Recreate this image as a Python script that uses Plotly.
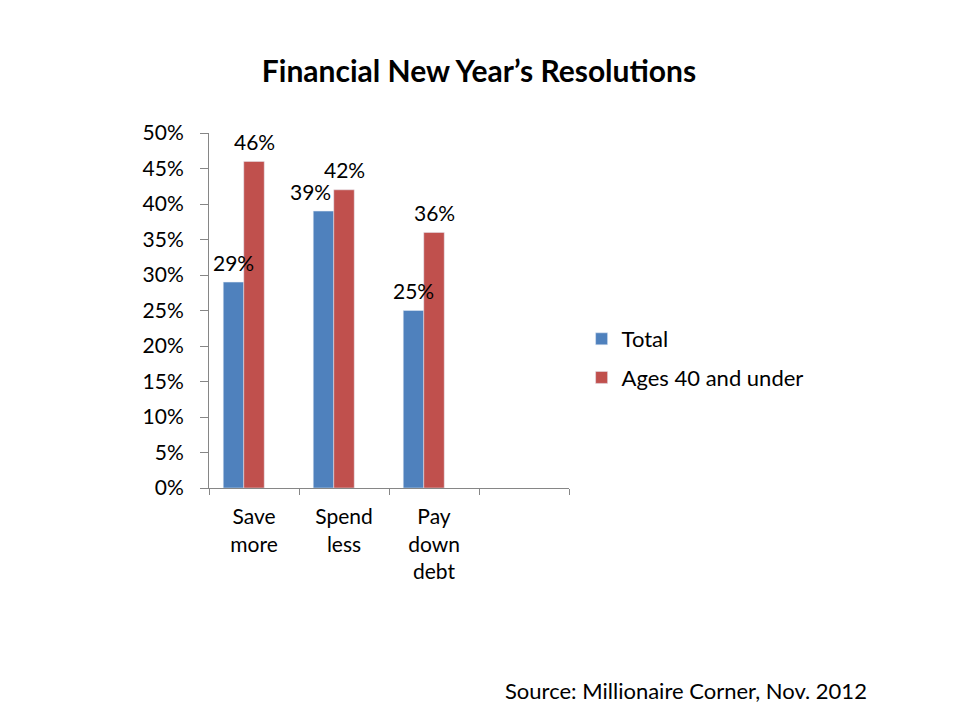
import plotly.graph_objects as go

categories = ["Save<br>more", "Spend<br>less", "Pay<br>down<br>debt", " "]
total = [29, 39, 25]
ages40 = [46, 42, 36]
series_names = ["Total", "Ages 40 and under"]
y_ticks = [0, 5, 10, 15, 20, 25, 30, 35, 40, 45, 50]

FONT = "Lato, Carlito, Calibri, sans-serif"
BLUE = "#4F81BD"
RED = "#C0504D"
FS = 21

# Excel-style group of three slots (third slot empty) per category
W = 20.5 / 90.0
CAT_PX = 90.0

fig = go.Figure()
fig.add_trace(go.Bar(x=categories[:3], y=total, name=series_names[0],
                     marker_color=BLUE, legendgroup="a",
                     width=W, offset=-1.5 * W))
fig.add_trace(go.Bar(x=categories[:3], y=ages40, name=series_names[1],
                     marker_color=RED, legendgroup="b",
                     width=W, offset=-0.5 * W))

# value labels (from the data), placed above each bar
for i, (cat, v) in enumerate(zip(categories[:3], total)):
    extra = -13 if i == 1 else 0
    fig.add_annotation(x=cat, y=v, text=f"{v}%", showarrow=False,
                       xshift=-W * CAT_PX + extra, yshift=20, yanchor="middle",
                       font=dict(size=FS, family=FONT, color="black"))
for cat, v in zip(categories[:3], ages40):
    fig.add_annotation(x=cat, y=v, text=f"{v}%", showarrow=False,
                       xshift=0, yshift=20, yanchor="middle",
                       font=dict(size=FS, family=FONT, color="black"))

fig.update_layout(
    width=960, height=720,
    margin=dict(l=201, r=399, t=125, b=240),
    paper_bgcolor="white", plot_bgcolor="white",
    font=dict(family=FONT, size=FS, color="black"),
    barmode="overlay",
    title=dict(text="<b>Financial New Year’s Resolutions</b>", x=(479 - 8) / 960,
               xanchor="center", xref="container", y=1 - 63 / 720, yref="container",
               yanchor="middle", font=dict(size=30, family=FONT, color="black")),
    showlegend=True,
    legend=dict(x=1.035, xanchor="left", y=(488 - 318) / 355, yanchor="top",
                font=dict(size=22, family=FONT, color="black"),
                tracegroupgap=7, bgcolor="rgba(0,0,0,0)"),
)
fig.update_xaxes(
    type="category", categoryorder="array", categoryarray=categories,
    range=[-0.5, 3.5], tickson="boundaries", ticks="outside", ticklen=6,
    tickcolor="#868686", showline=True, linecolor="#868686", linewidth=1,
    showgrid=False, tickfont=dict(size=FS, family=FONT, color="black"),
    ticklabelstandoff=10,
)
fig.update_yaxes(
    range=[0, 50], tickvals=y_ticks, ticktext=[f"{v}%" for v in y_ticks],
    ticks="outside", ticklen=8, tickcolor="#868686", showline=True,
    linecolor="#868686", linewidth=1, showgrid=False, zeroline=False,
    tickfont=dict(size=FS, family=FONT, color="black"),
    ticklabelstandoff=12,
)
fig.add_annotation(
    text="Source: Millionaire Corner, Nov. 2012", xref="paper", yref="paper",
    x=(686 - 209) / 360, y=(488 - 690) / 355, xanchor="center", yanchor="middle",
    showarrow=False, font=dict(size=22, family=FONT, color="black"),
)

fig.write_html("out.html")
